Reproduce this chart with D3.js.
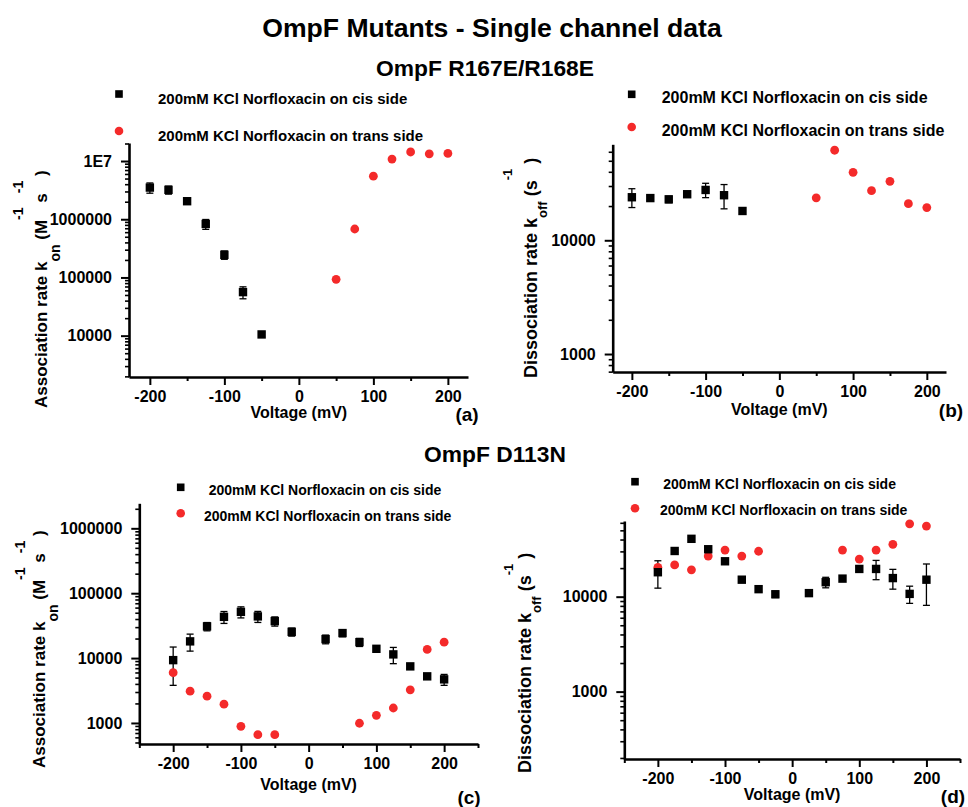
<!DOCTYPE html>
<html><head><meta charset="utf-8">
<script src="https://cdn.jsdelivr.net/npm/d3@7"></script>
<style>
body{margin:0;background:#fff;}
svg{display:block;font-family:Arial,"Liberation Sans",sans-serif;font-weight:bold;}
</style></head>
<body><svg id="chart" width="968" height="807"></svg>
<script>
// ---------- DATA ----------
const mainTitle = "OmpF Mutants - Single channel data";
const subTitles = ["OmpF R167E/R168E", "OmpF D113N"];
const legendCis = "200mM KCl Norfloxacin on cis side";
const legendTrans = "200mM KCl Norfloxacin on trans side";
const xTitle = "Voltage (mV)";
const panelTags = ["(a)", "(b)", "(c)", "(d)"];
const xMajorTicks = [-200, -100, 0, 100, 200];
const xMinorTicksAB = [-150, -50, 50, 150];
const xMinorTicksCD = [-250, -150, -50, 50, 150, 250];

// Panel (a): association rate, R167E/R168E
const aCisV = [-200, -175, -150, -125, -100, -75, -50];
const aCisK = [3.5e6, 3.2e6, 2.04e6, 8.3e5, 2.45e5, 5.6e4, 1.05e4];
const aCisErr = [7e5, 5e5, 2e5, 1.6e5, 4e4, 1.3e4, 1e3];
const aTransV = [50, 75, 100, 125, 150, 175, 200];
const aTransK = [9.3e4, 6.8e5, 5.5e6, 1.08e7, 1.43e7, 1.33e7, 1.35e7];
const aYTicks = [10000, 100000, 1000000, 10000000];

// Panel (b): dissociation rate, R167E/R168E
const bCisV = [-200, -175, -150, -125, -100, -75, -50];
const bCisK = [23900, 23500, 22900, 25400, 27700, 24900, 18100];
const bCisErr = [4500, 1000, 1500, 800, 4000, 6000, 500];
const bTransV = [50, 75, 100, 125, 150, 175, 200];
const bTransK = [23600, 61900, 39600, 27300, 33000, 21000, 19400];
const bYTicks = [1000, 10000];

// Panel (c): association rate, D113N
const cCisV = [-200, -175, -150, -125, -100, -75, -50, -25, 25, 50, 75, 100, 125, 150, 175, 200];
const cCisK = [9300, 18100, 30800, 43200, 51600, 43900, 37100, 25400, 19600, 24300, 17600, 13900, 11400, 7450, 5230, 4700];
const cCisErr = [5500, 5300, 4500, 9000, 10000, 8500, 6000, 3600, 3000, 3000, 2500, 1000, 3200, 600, 300, 900];
const cTransV = [-200, -175, -150, -125, -100, -75, -50, 75, 100, 125, 150, 175, 200];
const cTransK = [5950, 3090, 2590, 1950, 888, 660, 660, 990, 1310, 1700, 3240, 13600, 17600];
const cYTicks = [1000, 10000, 100000, 1000000];

// Panel (d): dissociation rate, D113N
const dCisV = [-200, -175, -150, -125, -100, -75, -50, -25, 25, 50, 75, 100, 125, 150, 175, 200];
const dCisK = [18100, 30300, 40700, 31600, 23600, 15100, 12000, 10600, 10900, 14200, 15500, 19600, 19600, 15700, 10700, 15100];
const dCisErr = [5800, 1000, 1200, 2000, 1000, 800, 800, 800, 600, 1800, 1000, 1000, 4500, 3700, 2200, 7000];
const dTransV = [-200, -175, -150, -125, -100, -75, -50, 75, 100, 125, 150, 175, 200];
const dTransK = [20400, 21600, 19200, 26800, 31000, 26800, 30100, 31000, 24900, 31000, 35600, 58600, 55400];
const dYTicks = [1000, 10000];

// ---------- LAYOUT ----------
const RED = "#f42a2a";
const svg = d3.select("#chart");

svg.append("text").attr("x", 492).attr("y", 37).attr("text-anchor", "middle")
  .attr("font-size", 26.6).text(mainTitle);
svg.append("text").attr("x", 485).attr("y", 76).attr("text-anchor", "middle")
  .attr("font-size", 22.8).text(subTitles[0]);
svg.append("text").attr("x", 495).attr("y", 462).attr("text-anchor", "middle")
  .attr("font-size", 22.8).text(subTitles[1]);

const assocLabel = [["Association rate k", 17, 0], ["on", 14, 13], [" (M", 17, 0], ["-1", 14, -23], [" s", 17, 0], ["-1", 14, -23], [" )", 17, 0]];
const dissocLabel = [["Dissociation rate k", 18, 0], ["off", 13, 10], [" (", 18, 0], ["s", 18, 0], ["-1", 13, -25], [" )", 18, 0]];

const panels = [
  {x0: 129, x1: 468, y0: 377, y1: 143, xd: [-228, 227], yd: [1950, 2.04e7], yTicks: aYTicks, yFmt: v => v >= 1e7 ? "1E7" : String(v),
   xMinor: xMinorTicksAB, cisV: aCisV, cisK: aCisK, cisE: aCisErr, trV: aTransV, trK: aTransK,
   leg: {mx: 119, cy: 94, ty: 99, tx: 158, cy2: 131, ty2: 136, tx2: 158, fs: 15},
   ylab: {start: 408, base: 47, pieces: assocLabel, supShift: -24},
   xt: {y: 412}, tag: {x: 467, y: 414, t: panelTags[0]}},
  {x0: 612.7, x1: 946, y0: 372, y1: 144.3, xd: [-226, 226], yd: [695, 69800], yTicks: bYTicks, yFmt: v => String(v),
   xMinor: xMinorTicksAB, cisV: bCisV, cisK: bCisK, cisE: bCisErr, trV: bTransV, trK: bTransK,
   leg: {mx: 631.7, cy: 94.3, ty: 97.7, tx: 661.7, cy2: 127, ty2: 130.7, tx2: 661.7, fs: 16},
   ylab: {start: 378, base: 537, pieces: dissocLabel, supShift: -25},
   xt: {y: 408.5}, tag: {x: 951, y: 410, t: panelTags[1]}},
  {x0: 139.3, x1: 478, y0: 744, y1: 503.3, xd: [-250, 250], yd: [474, 2.43e6], yTicks: cYTicks, yFmt: v => String(v),
   xMinor: xMinorTicksCD, cisV: cCisV, cisK: cCisK, cisE: cCisErr, trV: cTransV, trK: cTransK,
   leg: {mx: 180.7, cy: 487.3, ty: 490, tx: 208.7, cy2: 513.3, ty2: 516, tx2: 204, fs: 14},
   ylab: {start: 768, base: 45, pieces: assocLabel, supShift: -20},
   xt: {y: 784}, tag: {x: 469, y: 797, t: panelTags[2]}},
  {x0: 624.3, x1: 960, y0: 759, y1: 521, xd: [-250, 250], yd: [195, 62700], yTicks: dYTicks, yFmt: v => String(v),
   xMinor: xMinorTicksCD, cisV: dCisV, cisK: dCisK, cisE: dCisErr, trV: dTransV, trK: dTransK,
   leg: {mx: 635, cy: 481.7, ty: 484.3, tx: 663.3, cy2: 508.3, ty2: 510.3, tx2: 660, fs: 14},
   ylab: {start: 773, base: 531, pieces: dissocLabel, supShift: -18},
   xt: {y: 794}, tag: {x: 953, y: 796, t: panelTags[3]}}
];

function minorLogTicks(dom) {
  const out = [];
  const lo = Math.floor(Math.log10(dom[0])), hi = Math.ceil(Math.log10(dom[1]));
  for (let e = lo; e <= hi; e++) for (let m = 2; m <= 9; m++) {
    const v = m * Math.pow(10, e);
    if (v >= dom[0] && v <= dom[1]) out.push(v);
  }
  return out;
}

panels.forEach(p => {
  const x = d3.scaleLinear().domain(p.xd).range([p.x0, p.x1]);
  const y = d3.scaleLog().domain(p.yd).range([p.y0, p.y1]);
  const g = svg.append("g");

  // minor y ticks
  g.append("g").attr("transform", `translate(${p.x0},0)`)
    .call(d3.axisLeft(y).tickValues(minorLogTicks(p.yd)).tickSize(4).tickSizeOuter(0).tickFormat(""))
    .call(a => a.select(".domain").remove())
    .call(a => a.selectAll("line").attr("stroke", "#000").attr("stroke-width", 1.6));
  // major y ticks
  g.append("g").attr("transform", `translate(${p.x0},0)`)
    .call(d3.axisLeft(y).tickValues(p.yTicks).tickSize(8).tickSizeOuter(0).tickPadding(9).tickFormat(p.yFmt))
    .call(a => a.select(".domain").attr("stroke", "#000").attr("stroke-width", 2.6))
    .call(a => a.selectAll("line").attr("stroke", "#000").attr("stroke-width", 2))
    .call(a => a.selectAll("text").attr("font-size", 16).attr("font-weight", "bold").attr("fill", "#000")
      .attr("font-family", "Arial, 'Liberation Sans', sans-serif"));
  // minor x ticks
  g.append("g").attr("transform", `translate(0,${p.y0})`)
    .call(d3.axisBottom(x).tickValues(p.xMinor).tickSize(4).tickSizeOuter(0).tickFormat(""))
    .call(a => a.select(".domain").remove())
    .call(a => a.selectAll("line").attr("stroke", "#000").attr("stroke-width", 2));
  // major x ticks
  g.append("g").attr("transform", `translate(0,${p.y0})`)
    .call(d3.axisBottom(x).tickValues(xMajorTicks).tickSize(8).tickSizeOuter(0).tickPadding(6).tickFormat(d => String(d)))
    .call(a => a.select(".domain").attr("stroke", "#000").attr("stroke-width", 2.6))
    .call(a => a.selectAll("line").attr("stroke", "#000").attr("stroke-width", 2))
    .call(a => a.selectAll("text").attr("font-size", 16).attr("font-weight", "bold").attr("fill", "#000")
      .attr("font-family", "Arial, 'Liberation Sans', sans-serif"));

  // x title
  g.append("text").attr("x", x(0)).attr("y", p.xt.y + 6).attr("text-anchor", "middle")
    .attr("font-size", 16).text(xTitle);
  // panel tag
  g.append("text").attr("x", p.tag.x).attr("y", p.tag.y + 7).attr("text-anchor", "middle")
    .attr("font-size", 19).text(p.tag.t);

  // y label (rotated)
  const yl = g.append("text").attr("transform", "rotate(-90)");
  p.ylab.pieces.forEach((pc, i) => {
    const ts = yl.append("tspan").attr("font-size", pc[1]).text(pc[0]);
    let shift = pc[2];
    if (shift < 0) shift = p.ylab.supShift;
    ts.attr("y", p.ylab.base + shift);
    if (i === 0) ts.attr("x", -p.ylab.start);
  });

  // cis error bars
  const cis = p.cisV.map((v, i) => ({v, k: p.cisK[i], e: p.cisE[i]}));
  const eb = g.append("g").attr("stroke", "#000").attr("stroke-width", 1.3);
  cis.forEach(d => {
    const lo = Math.max(d.k - d.e, p.yd[0]);
    eb.append("line").attr("x1", x(d.v)).attr("x2", x(d.v)).attr("y1", y(lo)).attr("y2", y(d.k + d.e));
    eb.append("line").attr("x1", x(d.v) - 3.5).attr("x2", x(d.v) + 3.5).attr("y1", y(lo)).attr("y2", y(lo));
    eb.append("line").attr("x1", x(d.v) - 3.5).attr("x2", x(d.v) + 3.5).attr("y1", y(d.k + d.e)).attr("y2", y(d.k + d.e));
  });
  // trans points
  g.append("g").selectAll("circle").data(p.trV.map((v, i) => ({v, k: p.trK[i]}))).join("circle")
    .attr("cx", d => x(d.v)).attr("cy", d => y(d.k)).attr("r", 4.4).attr("fill", RED);
  // cis points
  g.append("g").selectAll("rect").data(cis).join("rect")
    .attr("x", d => x(d.v) - 4.2).attr("y", d => y(d.k) - 4.2).attr("width", 8.4).attr("height", 8.4).attr("fill", "#000");

  // legend
  const L = p.leg;
  g.append("rect").attr("x", L.mx - 3.8).attr("y", L.cy - 3.8).attr("width", 7.6).attr("height", 7.6).attr("fill", "#000");
  g.append("circle").attr("cx", L.mx).attr("cy", L.cy2).attr("r", 4.3).attr("fill", RED);
  g.append("text").attr("x", L.tx).attr("y", L.ty + L.fs * 0.36).attr("font-size", L.fs).text(legendCis);
  g.append("text").attr("x", L.tx2).attr("y", L.ty2 + L.fs * 0.36).attr("font-size", L.fs).text(legendTrans);
});
</script></body></html>
